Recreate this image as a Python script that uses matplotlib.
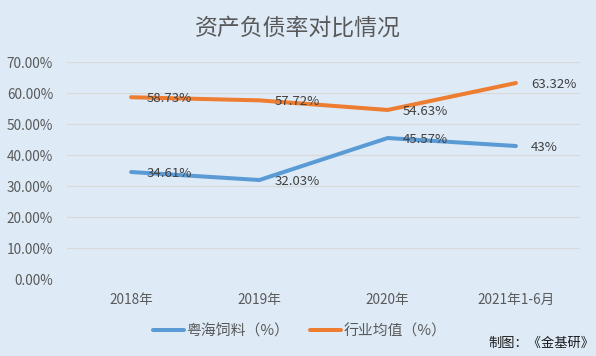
import matplotlib.pyplot as plt
from matplotlib.ticker import FuncFormatter

plt.rcParams['font.family'] = ['Noto Sans CJK SC', 'DejaVu Sans']

categories = ['2018年', '2019年', '2020年', '2021年1-6月']
yuehai = [34.61, 32.03, 45.57, 43]
industry = [58.73, 57.72, 54.63, 63.32]
series_names = ['粤海饲料（%）', '行业均值（%）']

bg = '#deebf7'
blue = '#5b9bd5'
orange = '#ed7d31'

fig = plt.figure(figsize=(5.96, 3.56), dpi=100, facecolor=bg)
ax = fig.add_axes([0.1124, 0.2154, 0.8608, 0.6096], facecolor=bg)

x = range(len(categories))
ax.plot(x, yuehai, color=blue, lw=2.9, solid_capstyle='round', label=series_names[0], zorder=3)
ax.plot(x, industry, color=orange, lw=2.9, solid_capstyle='round', label=series_names[1], zorder=3)

# data labels to the right of each point
for vals in (yuehai, industry):
    for i, v in enumerate(vals):
        ax.annotate(f'{v:g}%', (i, v), xytext=(11, -1), textcoords='offset points',
                    ha='left', va='center', fontsize=9.5, color='#404040', zorder=4)

ax.set_xlim(-0.5, 3.5)
ax.set_ylim(0, 70)
ax.set_yticks(range(0, 71, 10))
ax.yaxis.set_major_formatter(FuncFormatter(lambda v, p: f'{v:.2f}%'))
ax.set_xticks(list(x))
ax.set_xticklabels(categories)
ax.tick_params(length=0, labelsize=9.8, colors='#595959')
ax.tick_params(axis='x', pad=10)
ax.tick_params(axis='y', pad=10)
ax.grid(axis='y', color='#d9d9d9', lw=0.9)
ax.set_axisbelow(True)
for s in ax.spines.values():
    s.set_visible(False)

fig.text(0.5, 1 - 28 / 356, '资产负债率对比情况', ha='center', va='center',
         fontsize=16.5, color='#595959')

fig.legend(loc='center', bbox_to_anchor=(0.503, 1 - 331 / 356), ncol=2, frameon=False,
           fontsize=10.7, handlelength=2.1, handletextpad=0.15, columnspacing=1.4,
           labelcolor='#595959')

fig.text(0.997, 1 - 343 / 356, '制图：《金基研》', ha='right', va='center',
         fontsize=9.5, color='#1a1a1a')

fig.savefig('out.png', dpi=100, facecolor=bg)
